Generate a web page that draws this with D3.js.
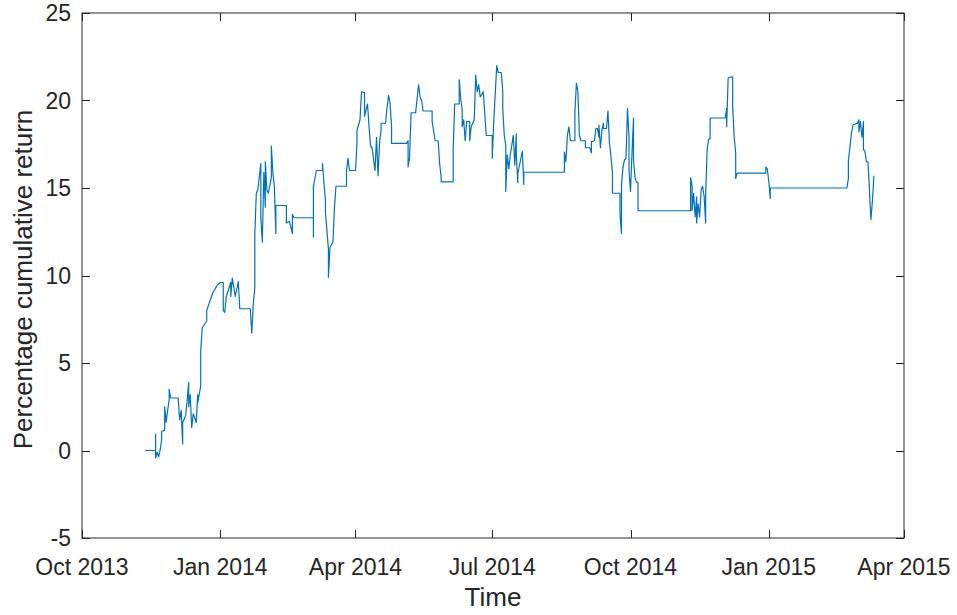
<!DOCTYPE html>
<html>
<head>
<meta charset="utf-8">
<script src="https://cdn.jsdelivr.net/npm/d3@7"></script>
<style>
  html, body { margin: 0; padding: 0; background: #fff; }
  svg { display: block; }
  text { font-family: "Liberation Sans", Arial, Helvetica, sans-serif; fill: #262626; }
</style>
</head>
<body>
<svg id="chart" width="957" height="615"></svg>
<script>
// ---- data ----
const dates = [
 "2013-11-12","2013-11-19","2013-11-19","2013-11-19","2013-11-20","2013-11-21","2013-11-22","2013-11-23","2013-11-23","2013-11-25",
 "2013-11-25","2013-11-26","2013-11-27","2013-11-28","2013-11-28","2013-11-29","2013-12-04","2013-12-05","2013-12-06","2013-12-07",
 "2013-12-07","2013-12-09","2013-12-10","2013-12-11","2013-12-11","2013-12-12","2013-12-13","2013-12-14","2013-12-16","2013-12-17",
 "2013-12-17","2013-12-19","2013-12-19","2013-12-20","2013-12-23","2013-12-23","2013-12-25","2013-12-27","2013-12-30","2014-01-01",
 "2014-01-03","2014-01-03","2014-01-04","2014-01-05","2014-01-08","2014-01-08","2014-01-09","2014-01-11","2014-01-13","2014-01-14",
 "2014-01-21","2014-01-22","2014-01-23","2014-01-24","2014-01-24","2014-01-24","2014-01-25","2014-01-26","2014-01-28","2014-01-28",
 "2014-01-29","2014-01-30","2014-01-31","2014-01-31","2014-02-01","2014-02-02","2014-02-04","2014-02-04","2014-02-05","2014-02-06",
 "2014-02-07","2014-02-07","2014-02-14","2014-02-14","2014-02-16","2014-02-18","2014-02-18","2014-02-19","2014-03-04","2014-03-04",
 "2014-03-04","2014-03-06","2014-03-10","2014-03-10","2014-03-11","2014-03-12","2014-03-12","2014-03-14","2014-03-14","2014-03-15",
 "2014-03-17","2014-03-18","2014-03-19","2014-03-26","2014-03-26","2014-03-27","2014-03-28","2014-04-01","2014-04-02","2014-04-02",
 "2014-04-04","2014-04-05","2014-04-07","2014-04-07","2014-04-09","2014-04-10","2014-04-11","2014-04-12","2014-04-14","2014-04-15",
 "2014-04-16","2014-04-17","2014-04-18","2014-04-18","2014-04-21","2014-04-22","2014-04-23","2014-04-24","2014-04-25","2014-04-25",
 "2014-05-05","2014-05-06","2014-05-06","2014-05-07","2014-05-08","2014-05-11","2014-05-13","2014-05-14","2014-05-15","2014-05-16",
 "2014-05-22","2014-05-22","2014-05-24","2014-05-26","2014-05-27","2014-05-28","2014-05-28","2014-06-05","2014-06-05","2014-06-06",
 "2014-06-09","2014-06-09","2014-06-10","2014-06-11","2014-06-11","2014-06-12","2014-06-13","2014-06-14","2014-06-16","2014-06-16",
 "2014-06-17","2014-06-19","2014-06-20","2014-06-21","2014-06-22","2014-06-23","2014-06-25","2014-06-26","2014-06-27","2014-07-01",
 "2014-07-01","2014-07-02","2014-07-03","2014-07-04","2014-07-05","2014-07-07","2014-07-08","2014-07-08","2014-07-09","2014-07-10",
 "2014-07-10","2014-07-11","2014-07-12","2014-07-13","2014-07-14","2014-07-15","2014-07-16","2014-07-17","2014-07-17","2014-07-18",
 "2014-07-18","2014-07-21","2014-07-22","2014-07-22","2014-08-18","2014-08-18","2014-08-19","2014-08-20","2014-08-21","2014-08-22",
 "2014-08-25","2014-08-25","2014-08-26","2014-08-27","2014-08-28","2014-08-29","2014-09-01","2014-09-01","2014-09-04","2014-09-05",
 "2014-09-05","2014-09-07","2014-09-08","2014-09-09","2014-09-10","2014-09-10","2014-09-11","2014-09-12","2014-09-13","2014-09-13",
 "2014-09-15","2014-09-16","2014-09-17","2014-09-18","2014-09-19","2014-09-19","2014-09-24","2014-09-24","2014-09-25","2014-09-25",
 "2014-09-26","2014-09-27","2014-09-28","2014-09-29","2014-09-30","2014-09-30","2014-10-01","2014-10-02","2014-10-03","2014-10-03",
 "2014-10-04","2014-10-05","2014-10-06","2014-10-06","2014-11-10","2014-11-10","2014-11-11","2014-11-11","2014-11-12","2014-11-13",
 "2014-11-14","2014-11-14","2014-11-15","2014-11-16","2014-11-17","2014-11-18","2014-11-19","2014-11-20","2014-11-20","2014-11-21",
 "2014-11-22","2014-11-23","2014-11-23","2014-12-03","2014-12-04","2014-12-04","2014-12-05","2014-12-08","2014-12-08","2014-12-09",
 "2014-12-10","2014-12-10","2014-12-11","2014-12-30","2014-12-30","2014-12-31","2015-01-01","2015-01-02","2015-01-02","2015-02-22",
 "2015-02-23","2015-02-23","2015-02-24","2015-02-25","2015-02-26","2015-03-01","2015-03-02","2015-03-02","2015-03-03","2015-03-04",
 "2015-03-05","2015-03-05","2015-03-06","2015-03-07","2015-03-08","2015-03-09","2015-03-09","2015-03-10","2015-03-11","2015-03-12"
];
const returns = [
 0.0, 0.0, 0.94, -0.43, -0.1, -0.37, 0.03, 0.6, 1.1, 1.15,
 2.5, 1.6, 2.3, 2.9, 3.5, 3.0, 3.0, 1.75, 2.3, 0.37,
 1.6, 2.0, 2.9, 3.9, 2.5, 3.2, 1.3, 2.1, 1.6, 3.2,
 2.7, 3.7, 5.7, 7.0, 7.4, 8.0, 8.5, 9.0, 9.45, 9.6,
 9.6, 8.0, 7.9, 8.8, 9.6, 8.8, 9.85, 8.8, 9.65, 8.1,
 8.1, 6.7, 8.4, 9.3, 10.7, 12.4, 14.7, 14.9, 16.4, 13.3,
 11.9, 15.9, 13.9, 16.5, 14.9, 14.7, 15.6, 17.4, 15.9, 15.1,
 12.4, 14.0, 14.0, 13.0, 13.1, 12.4, 13.5, 13.3, 13.3, 12.2,
 15.1, 16.0, 16.0, 16.4, 15.3, 14.3, 13.6, 11.5, 9.9, 11.6,
 11.9, 13.9, 15.1, 15.1, 16.0, 16.7, 16.0, 16.0, 17.6, 18.3,
 18.9, 20.5, 20.45, 19.1, 19.8, 18.5, 17.4, 17.3, 16.0, 17.9,
 15.7, 17.55, 18.3, 18.7, 18.7, 19.6, 20.3, 19.85, 18.5, 17.55,
 17.55, 17.7, 16.2, 16.8, 19.3, 19.3, 20.9, 20.2, 20.0, 19.4,
 19.4, 18.8, 17.7, 17.7, 16.4, 15.6, 15.35, 15.35, 17.2, 19.8,
 19.8, 21.2, 20.1, 19.5, 18.5, 18.9, 17.7, 18.8, 18.8, 17.7,
 18.5, 18.9, 21.45, 20.5, 20.9, 20.2, 20.5, 19.3, 18.0, 18.0,
 16.7, 18.8, 20.4, 22.0, 21.6, 21.6, 20.5, 19.55, 18.0, 17.45,
 14.8, 16.9, 16.1, 16.9, 17.45, 18.0, 16.3, 18.1, 16.9, 15.3,
 15.8, 17.1, 15.2, 15.9, 15.9, 17.05, 16.5, 18.0, 18.5, 17.7,
 17.7, 19.3, 21.0, 20.5, 18.0, 17.7, 17.7, 17.3, 17.3, 17.0,
 17.65, 17.7, 18.4, 18.4, 17.9, 18.6, 17.3, 18.3, 18.7, 18.4,
 18.4, 19.4, 17.55, 16.8, 15.85, 14.7, 14.7, 13.55, 12.4, 15.1,
 16.2, 16.6, 16.7, 19.55, 17.9, 16.0, 14.8, 17.0, 19.0, 16.6,
 15.6, 15.35, 15.3, 13.7, 13.7, 15.6, 15.1, 13.7, 14.7, 13.35,
 14.5, 13.0, 14.1, 13.35, 14.9, 15.1, 14.5, 13.0, 14.5, 17.2,
 17.8, 17.8, 19.0, 19.0, 19.55, 18.5, 21.3, 21.35, 19.6, 17.9,
 17.0, 15.55, 15.85, 15.85, 16.2, 16.1, 15.4, 14.4, 15.0, 15.0,
 15.55, 16.6, 17.3, 18.1, 18.6, 18.7, 18.9, 18.2, 18.8, 17.9,
 18.8, 17.2, 17.1, 16.5, 16.5, 15.0, 14.8, 13.2, 14.3, 15.7
];
const xTickDates = ["2013-10-01","2014-01-01","2014-04-01","2014-07-01","2014-10-01","2015-01-01","2015-04-01"];
const xTickLabels = ["Oct 2013","Jan 2014","Apr 2014","Jul 2014","Oct 2014","Jan 2015","Apr 2015"];
const yTicks = [-5, 0, 5, 10, 15, 20, 25];
const xLabel = "Time";
const yLabel = "Percentage cumulative return";

// ---- layout ----
const W = 957, H = 615;
const m = { left: 82, right: 904, top: 13, bottom: 538 };
const parse = d3.timeParse("%Y-%m-%d");
const data = dates.map((d, i) => ({ t: parse(d), v: returns[i] }));
const tickDates = xTickDates.map(parse);

const x = d3.scaleTime().domain([tickDates[0], tickDates[tickDates.length - 1]]).range([m.left, m.right]);
const y = d3.scaleLinear().domain([-5, 25]).range([m.bottom, m.top]);

const svg = d3.select("#chart");
const axisColor = "#262626";
const tickLen = 8;
const fontTick = 23;

// line
svg.append("path")
  .datum(data)
  .attr("fill", "none")
  .attr("stroke", "#0072BD")
  .attr("stroke-width", 1.2)
  .attr("stroke-linejoin", "round")
  .attr("d", d3.line().x(d => x(d.t)).y(d => y(d.v)));

// box
svg.append("rect")
  .attr("x", m.left).attr("y", m.top)
  .attr("width", m.right - m.left).attr("height", m.bottom - m.top)
  .attr("fill", "none").attr("stroke", axisColor).attr("stroke-width", 1);

// x ticks (bottom & top, inward)
const gx = svg.append("g");
tickDates.forEach((d, i) => {
  const px = Math.round(x(d)) + 0.5;
  gx.append("line").attr("x1", px).attr("x2", px).attr("y1", m.bottom).attr("y2", m.bottom - tickLen)
    .attr("stroke", axisColor);
  gx.append("line").attr("x1", px).attr("x2", px).attr("y1", m.top).attr("y2", m.top + tickLen)
    .attr("stroke", axisColor);
  gx.append("text").attr("x", x(d)).attr("y", 575)
    .attr("text-anchor", "middle").attr("font-size", fontTick)
    .text(xTickLabels[i]);
});

// y ticks (left & right, inward)
const gy = svg.append("g");
yTicks.forEach(v => {
  const py = Math.round(y(v)) + 0.5;
  gy.append("line").attr("x1", m.left).attr("x2", m.left + tickLen).attr("y1", py).attr("y2", py)
    .attr("stroke", axisColor);
  gy.append("line").attr("x1", m.right).attr("x2", m.right - tickLen).attr("y1", py).attr("y2", py)
    .attr("stroke", axisColor);
  gy.append("text").attr("x", m.left - 11).attr("y", y(v)).attr("dy", "0.36em")
    .attr("text-anchor", "end").attr("font-size", fontTick)
    .text(v);
});

// axis labels
svg.append("text")
  .attr("x", (m.left + m.right) / 2).attr("y", 606)
  .attr("text-anchor", "middle").attr("font-size", 26)
  .text(xLabel);

svg.append("text")
  .attr("transform", `translate(32,${(m.top + m.bottom) / 2 + 4}) rotate(-90)`)
  .attr("text-anchor", "middle").attr("font-size", 26)
  .text(yLabel);
</script>
</body>
</html>
